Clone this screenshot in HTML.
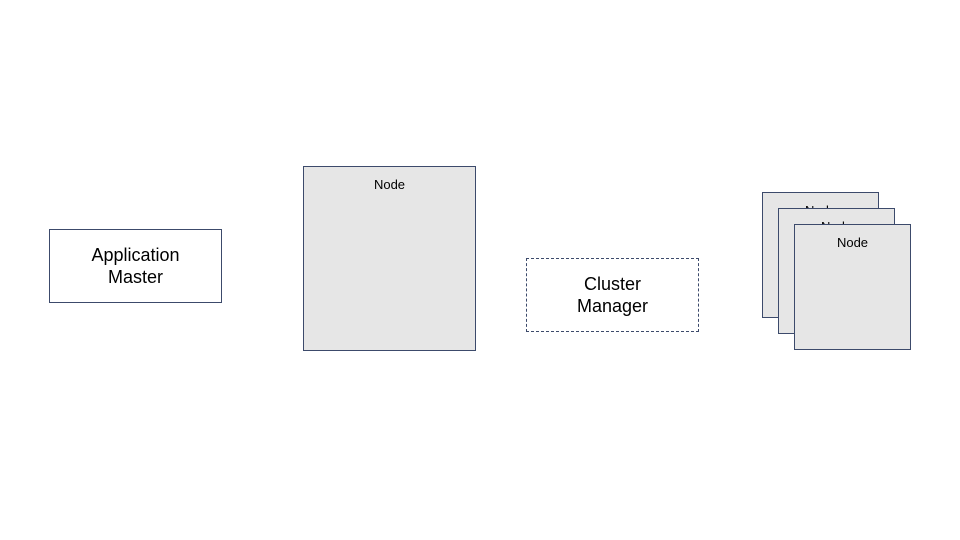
<!DOCTYPE html>
<html><head><meta charset="utf-8"><style>
body{margin:0;width:960px;height:540px;background:#fff;position:relative;overflow:hidden;font-family:"Liberation Sans",sans-serif;color:#000}
.b{position:absolute;box-sizing:border-box;border:1px solid #3c4a6b}
.g{background:#e6e6e6}
.t{position:absolute;left:0;right:0;text-align:center}
.big{font-size:18px;line-height:22px}
.sm{font-size:13px;top:10px}
</style></head><body>
<div class="b" style="left:49px;top:229px;width:173px;height:74px">
 <div class="t big" style="top:14px">Application<br>Master</div></div>
<div class="b g" style="left:303px;top:166px;width:173px;height:185px">
 <div class="t sm">Node</div></div>
<div class="b" style="left:526px;top:258px;width:173px;height:74px;border-style:dashed">
 <div class="t big" style="top:14px">Cluster<br>Manager</div></div>
<div class="b g" style="left:762px;top:192px;width:117px;height:126px">
 <div class="t sm">Node</div></div>
<div class="b g" style="left:778px;top:208px;width:117px;height:126px">
 <div class="t sm">Node</div></div>
<div class="b g" style="left:794px;top:224px;width:117px;height:126px">
 <div class="t sm">Node</div></div>
</body></html>
